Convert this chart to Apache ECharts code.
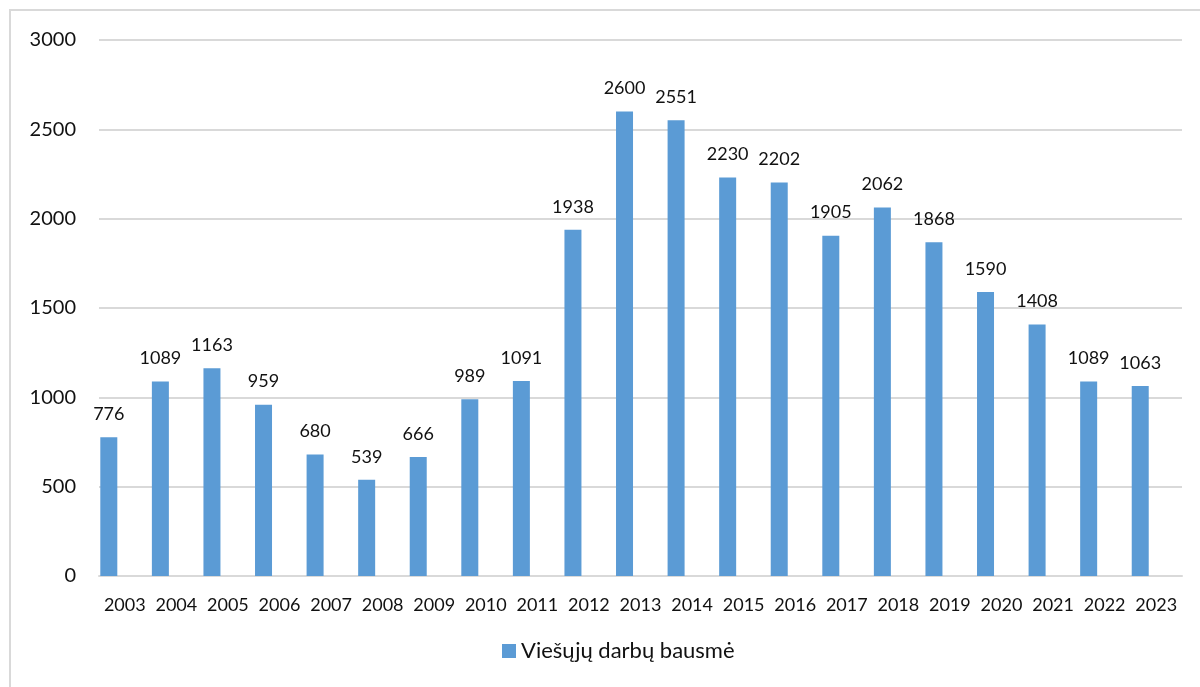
<!DOCTYPE html>
<html><head><meta charset="utf-8">
<script src="https://cdn.jsdelivr.net/npm/echarts@6/dist/echarts.min.js"></script>
<style>html,body{margin:0;padding:0;background:#fff}#c{width:1200px;height:687px}</style>
</head><body><div id="c"></div>
<script>
const years = ['2003','2004','2005','2006','2007','2008','2009','2010','2011','2012','2013','2014','2015','2016','2017','2018','2019','2020','2021','2022','2023'];
const values = [776,1089,1163,959,680,539,666,989,1091,1938,2600,2551,2230,2202,1905,2062,1868,1590,1408,1089,1063];
const seriesName = 'Viešųjų darbų bausmė';
const emptySeries = years.map(() => null);

const chart = echarts.init(document.getElementById('c'), null, {renderer:'canvas'});
const font = 'Lato, "Open Sans", sans-serif';
chart.setOption({
  animation:false,
  textStyle:{fontFamily:font},
  graphic:[{type:'rect', shape:{x:10,y:10,width:1300,height:1000}, style:{fill:'none', stroke:'#d9d9d9', lineWidth:2}, silent:true}],
  grid:{left:99, right:18, top:40, bottom:111, containLabel:false},
  legend:{data:[seriesName], bottom:20, left:497, itemWidth:14, itemHeight:14, itemGap:10, icon:'rect', textStyle:{fontSize:22, color:'#111', fontFamily:font}},
  xAxis:{type:'category', data:years, axisTick:{show:false}, axisLine:{lineStyle:{color:'#d9d9d9', width:2}},
    axisLabel:{color:'#111', fontSize:18, margin:20, fontFamily:font, interval:0}},
  yAxis:{type:'value', min:0, max:3000, interval:500, axisLine:{show:false}, axisTick:{show:false},
    splitLine:{lineStyle:{color:'#d9d9d9', width:2}},
    axisLabel:{color:'#111', fontSize:20, margin:23, fontFamily:font, formatter:v => String(v)}},
  series:[
    {name:seriesName, type:'bar', data:values, barWidth:17, barGap:'88%', itemStyle:{color:'#5B9BD5'},
      label:{show:true, position:'top', distance:14, color:'#111', fontSize:18, fontFamily:font}},
    {name:'_empty', type:'bar', data:emptySeries, barWidth:17}
  ]
});
</script></body></html>
